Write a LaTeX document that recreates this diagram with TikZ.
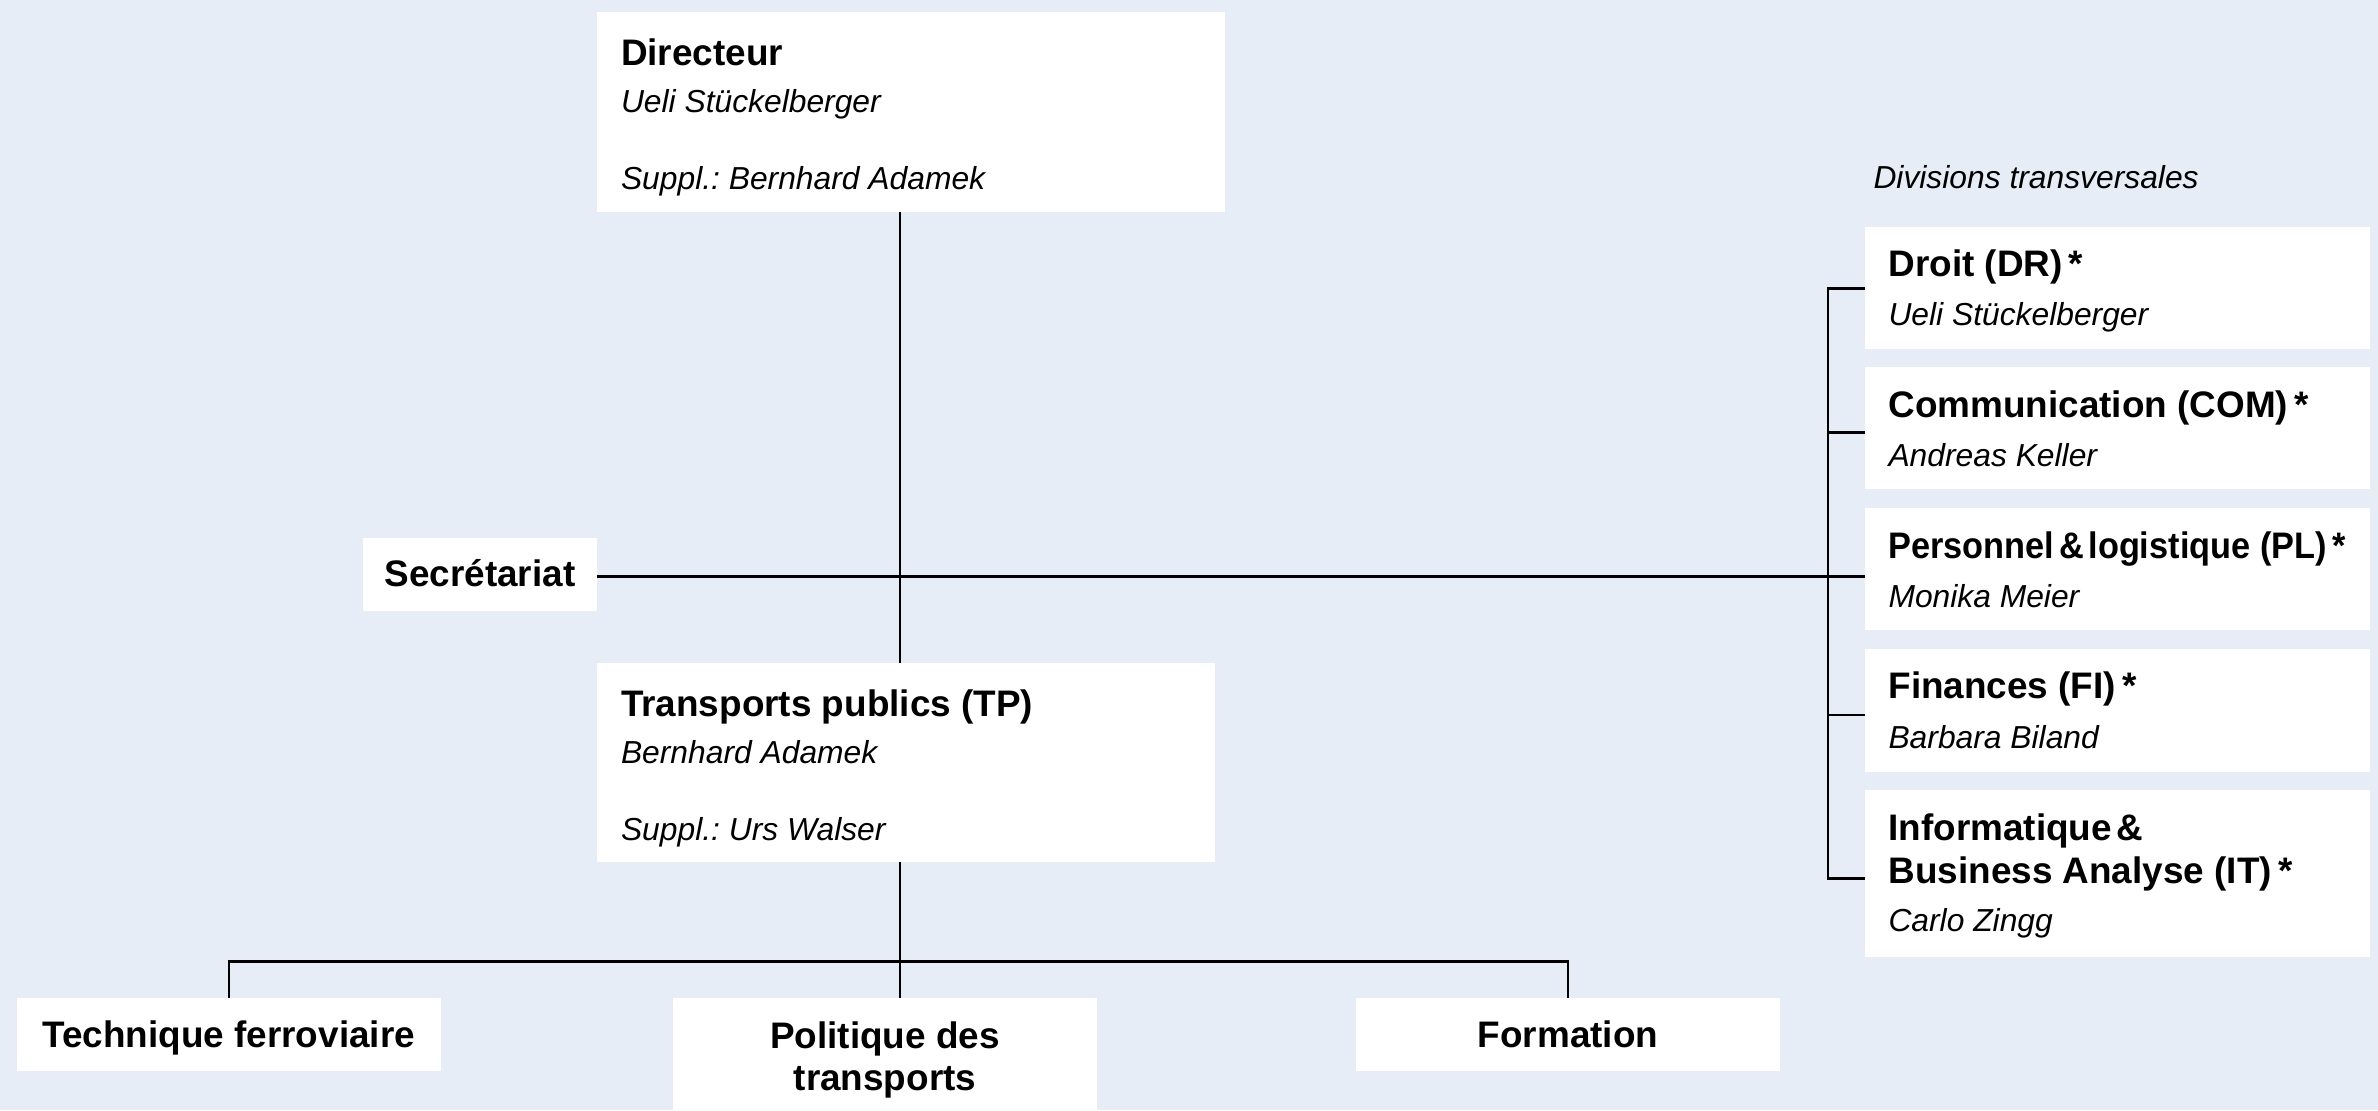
\documentclass[tikz,border=0pt]{standalone}
\usepackage{fontspec}
\setmainfont{Liberation Sans}
\usepackage{graphicx}
\usetikzlibrary{fit}
\frenchspacing
\definecolor{bg}{RGB}{230,237,246}
\tikzset{
  box/.style={rectangle, fill=white, draw=none, inner sep=0pt, outer sep=0pt},
  ttl/.style={inner sep=0pt, outer sep=0pt, font=\bfseries\fontsize{18.45}{22}\selectfont},
  nm/.style={inner sep=0pt, outer sep=0pt, font=\itshape\fontsize{15.9}{19}\selectfont},
  link/.style={draw=black, line width=1.4pt, line join=miter},
}
\begin{document}
\begin{tikzpicture}[x=0.5pt, y=-0.5pt]
\useasboundingbox (0,0) rectangle (2378,1110);
\fill[bg] (0,0) rectangle (2378,1110);

% boxes
\node[box, fit={(597,12) (1225,211.5)}] (dir) {};
\node[box, fit={(363,538) (597,611)}] (sec) {};
\node[box, fit={(597,663) (1215,862.3)}] (tp) {};
\node[box, fit={(1865,227.3) (2370,349.3)}] (droit) {};
\node[box, fit={(1865,367.3) (2370,489.3)}] (com) {};
\node[box, fit={(1865,508.3) (2370,630)}] (pl) {};
\node[box, fit={(1865,649.3) (2370,771.5)}] (fi) {};
\node[box, fit={(1865,790) (2370,957.3)}] (it) {};
\node[box, fit={(17,998) (441,1070.7)}] (tech) {};
\node[box, fit={(673,998) (1097,1112)}] (pol) {};
\node[box, fit={(1356,998) (1780,1070.7)}] (form) {};

% texts
\node[ttl, anchor=base west] (dirT) at (621,65.7) {Directeur};
\node[nm, anchor=base west] (dirN) at (621,112.3) {Ueli Stückelberger};
\node[nm, anchor=base west] (dirS) at (621,189) {Suppl.: Bernhard Adamek};

\node[ttl, anchor=base] (secT) at (480,586.7) {Secrétariat};

\node[ttl, anchor=base west] (tpT) at (621,716.7) {Transports publics (TP)};
\node[nm, anchor=base west] (tpN) at (621,763.3) {Bernhard Adamek};
\node[nm, anchor=base west] (tpS) at (621,840) {Suppl.: Urs Walser};

\node[nm, anchor=base west] (divT) at (1873.5,188.3) {Divisions transversales};

\node[ttl, anchor=base west] (droitT) at (1888.5,276) {Droit (DR)\,*};
\node[nm, anchor=base west] (droitN) at (1888.5,325.3) {Ueli Stückelberger};
\node[ttl, anchor=base west] (comT) at (1888.5,417) {Communication (COM)\,*};
\node[nm, anchor=base west] (comN) at (1888.5,466) {Andreas Keller};
\node[ttl, anchor=base west] (plT) at (1888.5,558) {\scalebox{0.93}[1]{Personnel\kern2.5pt\&\kern2.5pt logistique (PL)\,*}};
\node[nm, anchor=base west] (plN) at (1888.5,607) {Monika Meier};
\node[ttl, anchor=base west] (fiT) at (1888.5,698.5) {Finances (FI)\,*};
\node[nm, anchor=base west] (fiN) at (1888.5,748) {Barbara Biland};
\node[ttl, anchor=base west] (itT) at (1888.5,840) {Informatique\kern2.5pt\&};
\node[ttl, anchor=base west] (itT2) at (1888.5,883.3) {Business Analyse (IT)\,*};
\node[nm, anchor=base west] (itN) at (1888.5,931.7) {Carlo Zingg};

\node[ttl, anchor=base] (techT) at (228.7,1047) {Technique ferroviaire};
\node[ttl, anchor=base] (polT) at (885,1048) {Politique des};
\node[ttl, anchor=base] (polT2) at (885,1090) {transports};
\node[ttl, anchor=base] (formT) at (1568,1047) {Formation};

% connector coordinates
\coordinate (tx) at (900,0);
\coordinate (my) at (0,576.5);
\coordinate (bar) at (900,961.7);
\coordinate (k1) at (1828,288.3);
\coordinate (k2) at (1828,432.7);
\coordinate (k4) at (1828,715);
\coordinate (k5) at (1828,878.3);

% connectors
\draw[link] (dir.south -| tx) -- (tp.north -| tx);
\draw[link] (sec.east |- my) -- (pl.west |- my);
\draw[link] (k1 -| droit.west) -- (k1) -- (k5) -- (k5 -| it.west);
\draw[link] (k2) -- (k2 -| com.west);
\draw[link] (k4) -- (k4 -| fi.west);
\draw[link] (tp.south -| tx) -- (bar);
\draw[link] (tech.north) |- (bar) -| (form.north);
\draw[link] (bar) -- (bar |- pol.north);
\end{tikzpicture}
\end{document}
